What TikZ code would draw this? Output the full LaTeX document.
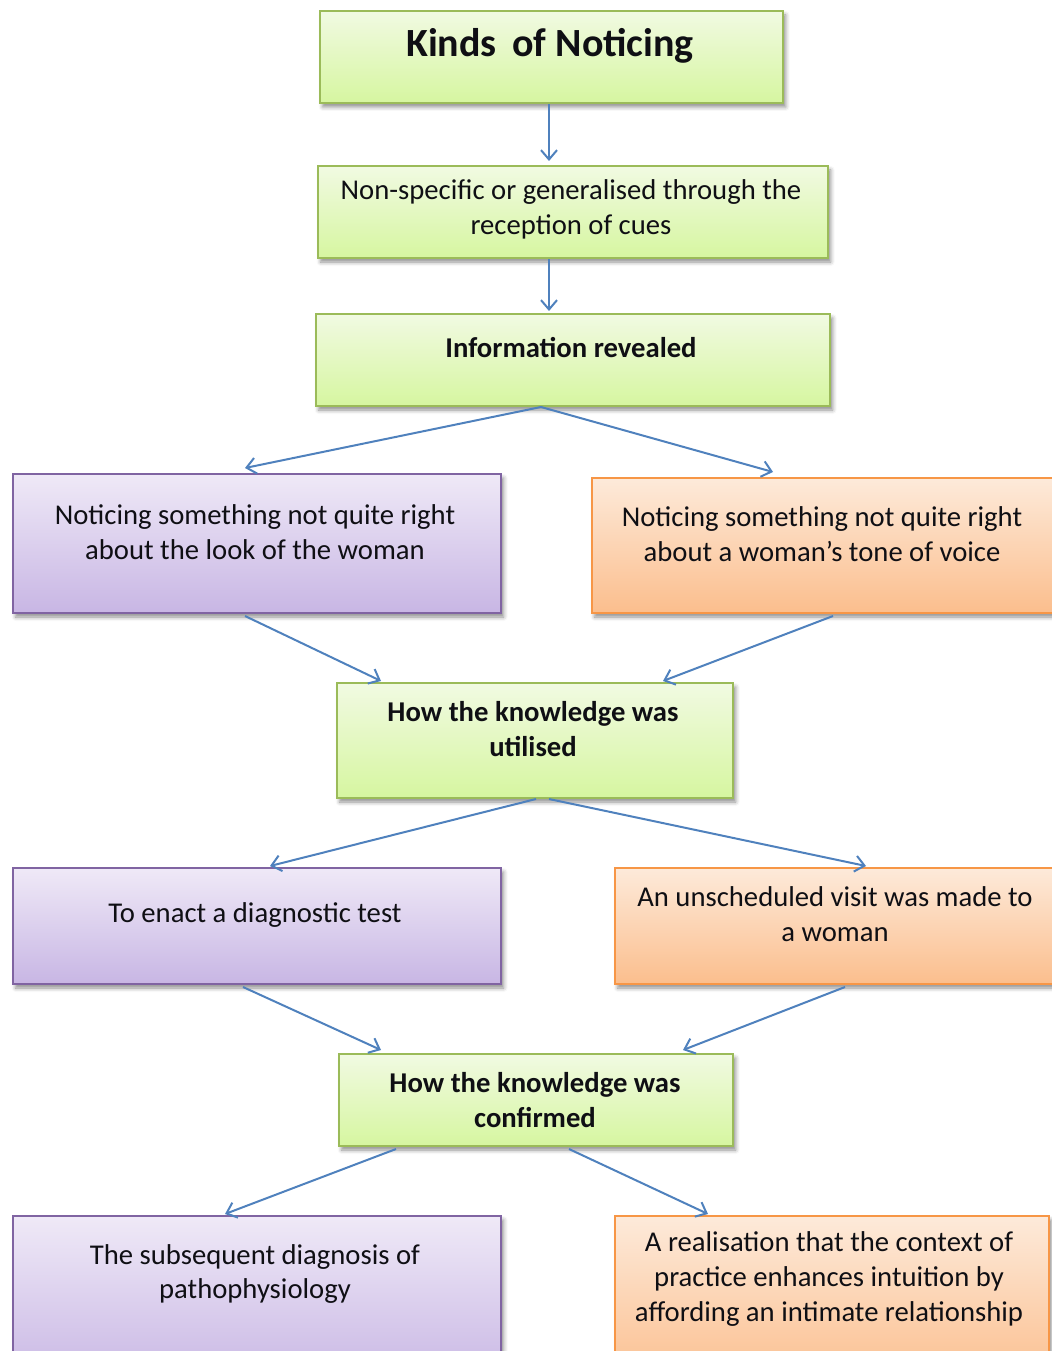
\documentclass[tikz,border=0pt]{standalone}
\usepackage{fontspec}
\setmainfont{Carlito}
\usetikzlibrary{arrows.meta,calc,shadows.blur}

\definecolor{grnline}{RGB}{155,187,89}
\definecolor{grntop}{RGB}{241,250,226}
\definecolor{grnbot}{RGB}{214,246,160}
\definecolor{purline}{RGB}{128,100,162}
\definecolor{purtop}{RGB}{239,233,247}
\definecolor{purbot}{RGB}{200,182,228}
\definecolor{orgline}{RGB}{247,150,70}
\definecolor{orgtop}{RGB}{253,234,218}
\definecolor{orgbot}{RGB}{251,190,141}
\definecolor{arrowblue}{RGB}{79,129,189}
\definecolor{ink}{RGB}{15,15,20}

\tikzset{
  box/.style={rectangle, anchor=north west, line width=1.5pt, inner sep=0pt,
    blur shadow={shadow xshift=2pt, shadow yshift=-3pt, shadow blur radius=3pt, shadow opacity=45}},
  greenbox/.style={box, draw=grnline, top color=grntop, bottom color=grnbot},
  purplebox/.style={box, draw=purline, top color=purtop, bottom color=purbot},
  orangebox/.style={box, draw=orgline, top color=orgtop, bottom color=orgbot},
  txt/.style={inner sep=0pt, align=center, text=ink, font=\fontsize{21.5}{26.2}\selectfont},
  boldtxt/.style={txt, font=\fontsize{21.5}{26.2}\selectfont\bfseries},
  titletxt/.style={inner sep=0pt, text=ink, font=\fontsize{30}{36}\selectfont\bfseries},
  link/.style={draw=arrowblue, line width=1.5pt, -{Straight Barb[length=7pt,width=12pt,line width=1.5pt]}}
}

% #1 style, #2 name, #3/#4 top-left corner, #5 width, #6 height (all in px units)
\newcommand{\bx}[6]{%
  \node[#1, minimum width=#5*0.75pt, minimum height=#6*0.75pt] (#2) at (#3,#4) {};}

\begin{document}
\begin{tikzpicture}[x=0.75pt, y=-0.75pt]
\useasboundingbox (0,0) rectangle (1051,1351);

% boxes
\bx{greenbox}{b1}{319}{10}{463}{92}
\bx{greenbox}{b2}{317}{165}{510}{92}
\bx{greenbox}{b3}{315}{313}{514}{92}
\bx{purplebox}{b4}{12}{473}{488}{139}
\bx{orangebox}{b5}{591}{477}{475}{135}
\bx{greenbox}{b6}{336}{682}{396}{115}
\bx{purplebox}{b7}{12}{867}{488}{116}
\bx{orangebox}{b8}{614}{867}{452}{116}
\bx{greenbox}{b9}{338}{1053}{394}{92}
\bx{purplebox}{b10}{12}{1215}{488}{170}
\bx{orangebox}{b11}{614}{1215}{434}{170}

% labels
\node[titletxt] (t1) at (550,46) {Kinds\, of Noticing};
\node[txt] (t2) at (571,209) {Non-specific or generalised through the\\reception of cues};
\node[boldtxt] (t3) at (571,348) {Information revealed};
\node[txt] (t4) at (255,532) {Noticing something not quite right\\about the look of the woman};
\node[txt] (t5) at (822,534) {Noticing something not quite right\\about a woman’s tone of voice};
\node[boldtxt] (t6) at (533,729) {How the knowledge was\\utilised};
\node[txt] (t7) at (255,915) {To enact a diagnostic test};
\node[txt] (t8) at (835,914) {An unscheduled visit was made to\\a woman};
\node[boldtxt] (t9) at (535,1100) {How the knowledge was\\confirmed};
\node[txt] (t10) at (255,1274) {The subsequent diagnosis of\\pathophysiology};
\node[txt] (t11) at (829,1279) {A realisation that the context of\\practice enhances intuition by\\affording an intimate relationship};

% connectors
\draw[link] ($(b1.south west)+(230,0)$) -- ($(b2.north west)+(232,-4)$);
\draw[link] ($(b2.south west)+(232,0)$) -- ($(b3.north west)+(234,-2)$);
\draw[link] ($(b3.south west)+(226,0)$) -- ($(b4.north west)+(233,-5)$);
\draw[link] ($(b3.south west)+(226,0)$) -- ($(b5.north west)+(182,-5)$);
\draw[link] ($(b4.south west)+(233,2)$) -- ($(b6.north west)+(45,-1)$);
\draw[link] ($(b5.south west)+(242,2)$) -- ($(b6.north west)+(327,-1)$);
\draw[link] ($(b6.south west)+(200,0)$) -- ($(b7.north west)+(258,-1)$);
\draw[link] ($(b6.south west)+(213,0)$) -- ($(b8.north west)+(252,-1)$);
\draw[link] ($(b7.south west)+(231,2)$) -- ($(b9.north west)+(43,-3)$);
\draw[link] ($(b8.south west)+(231,2)$) -- ($(b9.north west)+(345,-3)$);
\draw[link] ($(b9.south west)+(58,2)$) -- ($(b10.north west)+(213,-1)$);
\draw[link] ($(b9.south west)+(231,2)$) -- ($(b11.north west)+(94,-1)$);
\end{tikzpicture}
\end{document}
